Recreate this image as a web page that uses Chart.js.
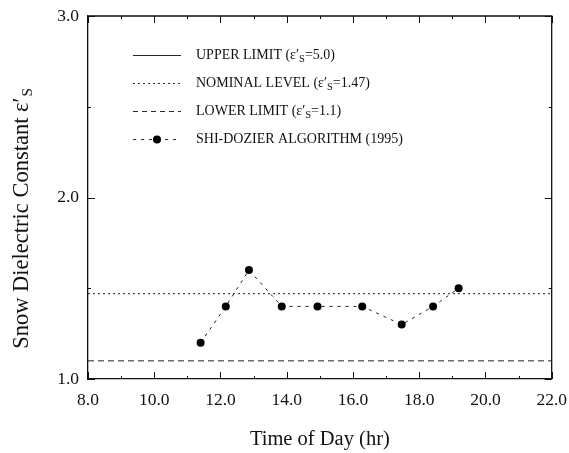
<!DOCTYPE html>
<html>
<head>
<meta charset="utf-8">
<script src="https://cdn.jsdelivr.net/npm/chart.js@4"></script>
<style>
html,body{margin:0;padding:0;background:#fff;}
#wrap{width:569px;height:453px;}
</style>
</head>
<body>
<div id="wrap"><canvas id="c" width="569" height="453"></canvas></div>
<script>
// ---- data ----
const timeOfDay   = [11.40, 12.16, 12.86, 13.85, 14.93, 16.28, 17.47, 18.42, 19.19];
const shiDozier   = [1.20, 1.40, 1.60, 1.40, 1.40, 1.40, 1.30, 1.40, 1.50];
const limitRangeX = [8.0, 22.0];
const upperLimit  = [5.0, 5.0];
const nominalLevel= [1.47, 1.47];
const lowerLimit  = [1.1, 1.1];
const xTickValues = [8, 10, 12, 14, 16, 18, 20, 22];
const yTickValues = [1, 2, 3];
const legendLabels = [
  ['UPPER LIMIT (\u03B5\u2032', 'S', '=5.0)'],
  ['NOMINAL LEVEL (\u03B5\u2032', 'S', '=1.47)'],
  ['LOWER LIMIT (\u03B5\u2032', 'S', '=1.1)'],
  ['SHI-DOZIER ALGORITHM (1995)', '', '']
];
const xTitle = 'Time of Day (hr)';
const yTitle = ['Snow Dielectric Constant \u03B5\u2032', 'S'];

const SERIF = '"Liberation Serif", "DejaVu Serif", serif';
const INK = '#111';

function pts(xs, ys){ return xs.map((x,i)=>({x:x, y:ys[i]})); }

const decor = {
  id: 'decor',
  afterDraw(chart){
    const ctx = chart.ctx, a = chart.chartArea;
    const xs = chart.scales.x, ys = chart.scales.y;
    ctx.save();
    ctx.strokeStyle = INK; ctx.lineWidth = 1.3;
    // frame top and right
    ctx.beginPath();
    ctx.moveTo(a.left, a.top); ctx.lineTo(a.right, a.top); ctx.lineTo(a.right, a.bottom);
    ctx.stroke();
    // inward ticks
    ctx.lineWidth = 1;
    for (let v = 8; v <= 22; v += 1) {
      const px = Math.round(xs.getPixelForValue(v)) + 0.5;
      const len = (v % 2 === 0) ? 7 : 3;
      ctx.beginPath();
      ctx.moveTo(px, a.bottom); ctx.lineTo(px, a.bottom - len);
      ctx.moveTo(px, a.top); ctx.lineTo(px, a.top + len);
      ctx.stroke();
    }
    for (let v = 1; v <= 3.001; v += 0.5) {
      const py = Math.round(ys.getPixelForValue(v)) + 0.5;
      const len = (Math.abs(v - Math.round(v)) < 1e-6) ? 7 : 3;
      ctx.beginPath();
      ctx.moveTo(a.left, py); ctx.lineTo(a.left + len, py);
      ctx.moveTo(a.right, py); ctx.lineTo(a.right - len, py);
      ctx.stroke();
    }
    // y title, rotated, with subscript
    ctx.fillStyle = INK;
    ctx.translate(28, 219);
    ctx.rotate(-Math.PI / 2);
    ctx.font = '22.5px ' + SERIF;
    const w1 = ctx.measureText(yTitle[0]).width;
    ctx.font = '15px ' + SERIF;
    const w2 = ctx.measureText(yTitle[1]).width;
    let x0 = -(w1 + w2) / 2;
    ctx.textBaseline = 'alphabetic';
    ctx.textAlign = 'left';
    ctx.font = '22.5px ' + SERIF;
    ctx.fillText(yTitle[0], x0, 0);
    ctx.font = '15px ' + SERIF;
    ctx.fillText(yTitle[1], x0 + w1 + 1, 4);
    ctx.restore();

    // legend
    ctx.save();
    const styles = [
      {dash: [], marker: false},
      {dash: [2, 3], marker: false},
      {dash: [5, 4], marker: false},
      {dash: [3, 5], marker: true}
    ];
    const rowsY = [55, 83, 111, 139];
    const sx0 = 133, sx1 = 181, tx = 196;
    for (let i = 0; i < 4; i++) {
      const y = rowsY[i];
      ctx.strokeStyle = INK; ctx.lineWidth = 0.9;
      ctx.setLineDash(styles[i].dash);
      ctx.beginPath(); ctx.moveTo(sx0, y + 0.5); ctx.lineTo(sx1, y + 0.5); ctx.stroke();
      ctx.setLineDash([]);
      if (styles[i].marker) {
        ctx.fillStyle = '#000';
        ctx.beginPath(); ctx.arc(157, y + 0.5, 4, 0, Math.PI * 2); ctx.fill();
      }
      ctx.fillStyle = INK;
      ctx.textBaseline = 'middle';
      ctx.font = '14px ' + SERIF;
      const t = legendLabels[i];
      ctx.fillText(t[0], tx, y);
      let xx = tx + ctx.measureText(t[0]).width;
      if (t[1]) {
        ctx.font = '10.5px ' + SERIF;
        ctx.fillText(t[1], xx, y + 4);
        xx += ctx.measureText(t[1]).width;
        ctx.font = '14px ' + SERIF;
        ctx.fillText(t[2], xx, y);
      }
    }
    ctx.restore();
  }
};

new Chart(document.getElementById('c'), {
  type: 'scatter',
  data: {
    datasets: [
      { label: 'UPPER LIMIT', data: pts(limitRangeX, upperLimit), showLine: true,
        borderColor: INK, borderWidth: 1, pointRadius: 0 },
      { label: 'NOMINAL LEVEL', data: pts(limitRangeX, nominalLevel), showLine: true,
        borderColor: '#222', borderWidth: 1, borderDash: [2, 3], pointRadius: 0 },
      { label: 'LOWER LIMIT', data: pts(limitRangeX, lowerLimit), showLine: true,
        borderColor: '#222', borderWidth: 1, borderDash: [6, 4], pointRadius: 0 },
      { label: 'SHI-DOZIER ALGORITHM (1995)', data: pts(timeOfDay, shiDozier), showLine: true,
        borderColor: '#222', borderWidth: 1, borderDash: [3, 5],
        pointRadius: 4, pointBackgroundColor: '#000', pointBorderColor: '#000', pointBorderWidth: 0 }
    ]
  },
  options: {
    responsive: false,
    animation: false,
    layout: { padding: { left: 0, right: 17, top: 16, bottom: 0 } },
    plugins: { legend: { display: false }, tooltip: { enabled: false } },
    scales: {
      x: {
        type: 'linear', min: 8, max: 22,
        afterBuildTicks: s => { s.ticks = xTickValues.map(v => ({value: v})); },
        afterFit: s => { s.height = 74; },
        grid: { display: false, drawTicks: true, tickLength: 9 },
        border: { display: true, color: INK, width: 1.3 },
        ticks: { color: INK, font: { family: SERIF, size: 17.5 }, padding: 2,
                 maxRotation: 0, callback: v => Number(v).toFixed(1) },
        title: { display: true, text: xTitle, color: INK,
                 font: { family: SERIF, size: 20.5 }, padding: { top: 0, bottom: 1 } }
      },
      y: {
        type: 'linear', min: 1, max: 3,
        afterBuildTicks: s => { s.ticks = yTickValues.map(v => ({value: v})); },
        afterFit: s => { s.width = 88; },
        grid: { display: false, drawTicks: true, tickLength: 7 },
        border: { display: true, color: INK, width: 1.3 },
        ticks: { color: INK, font: { family: SERIF, size: 17.5 }, padding: 2,
                 callback: v => Number(v).toFixed(1) }
      }
    }
  },
  plugins: [decor]
});
</script>
</body>
</html>
